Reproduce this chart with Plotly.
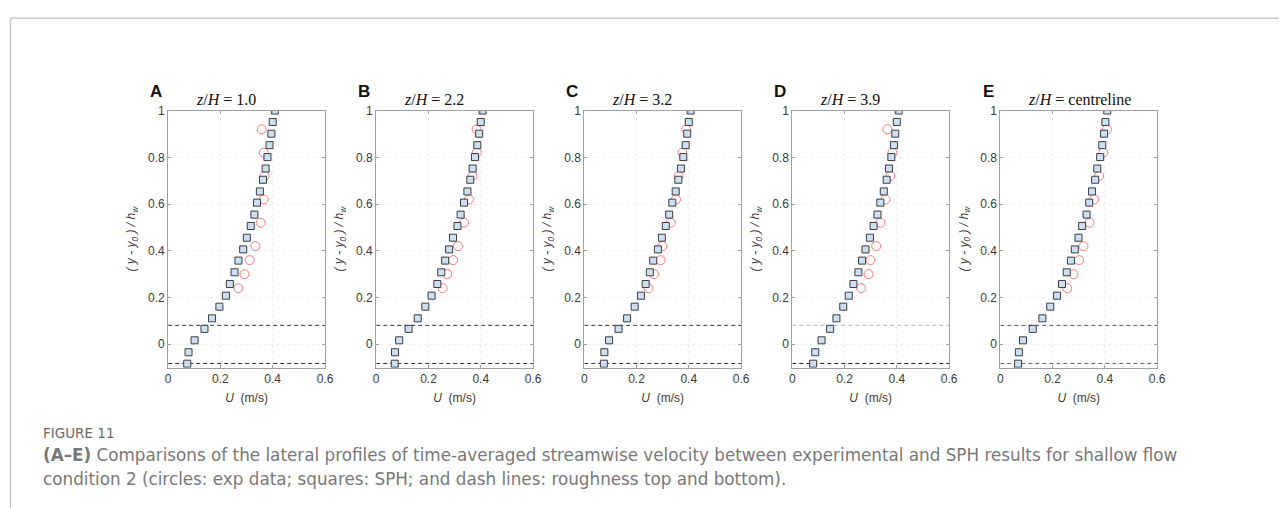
import plotly.graph_objects as go

# ---------------- data ----------------
panel_letters = ["A", "B", "C", "D", "E"]
panel_titles = ["1.0", "2.2", "3.2", "3.9", "centreline"]

sph_y = [1.0, 0.951, 0.901, 0.852, 0.801, 0.752, 0.704, 0.654, 0.606, 0.555, 0.506,
         0.456, 0.406, 0.358, 0.308, 0.258, 0.208, 0.161, 0.111, 0.066, 0.017, -0.034, -0.083]

sph_u_A = [0.408, 0.400, 0.395, 0.388, 0.380, 0.373, 0.363, 0.351, 0.340, 0.330, 0.316,
           0.301, 0.287, 0.269, 0.254, 0.236, 0.221, 0.196, 0.168, 0.139, 0.101, 0.078, 0.073]
sph_u_B = [0.407, 0.400, 0.394, 0.387, 0.378, 0.369, 0.360, 0.349, 0.336, 0.323, 0.311,
           0.294, 0.279, 0.264, 0.249, 0.234, 0.212, 0.188, 0.159, 0.124, 0.088, 0.072, 0.071]
sph_u_C = [0.407, 0.400, 0.394, 0.388, 0.379, 0.370, 0.360, 0.350, 0.337, 0.325, 0.312,
           0.297, 0.282, 0.264, 0.251, 0.235, 0.217, 0.193, 0.164, 0.131, 0.095, 0.077, 0.075]
sph_u_D = [0.407, 0.400, 0.394, 0.389, 0.379, 0.370, 0.361, 0.350, 0.337, 0.326, 0.311,
           0.297, 0.280, 0.267, 0.253, 0.234, 0.216, 0.195, 0.169, 0.145, 0.112, 0.088, 0.080]
sph_u_E = [0.409, 0.402, 0.397, 0.390, 0.382, 0.371, 0.363, 0.351, 0.340, 0.330, 0.313,
           0.299, 0.285, 0.270, 0.254, 0.236, 0.217, 0.191, 0.161, 0.124, 0.087, 0.071, 0.068]

exp_y = [0.92, 0.82, 0.72, 0.62, 0.52, 0.42, 0.36, 0.30, 0.24]
exp_u_A = [0.358, 0.366, 0.369, 0.366, 0.354, 0.334, 0.312, 0.292, 0.269]
exp_u_B = [0.384, 0.385, 0.368, 0.355, 0.336, 0.313, 0.294, 0.272, 0.254]
exp_u_C = [0.390, 0.375, 0.361, 0.351, 0.331, 0.299, 0.292, 0.267, 0.246]
exp_u_D = [0.364, 0.383, 0.375, 0.357, 0.337, 0.321, 0.299, 0.292, 0.263]
exp_u_E = [0.408, 0.394, 0.378, 0.359, 0.341, 0.318, 0.301, 0.280, 0.256]

roughness_top = 0.081
roughness_bottom = -0.082

x_ticks = [0, 0.2, 0.4, 0.6]
y_ticks = [0, 0.2, 0.4, 0.6, 0.8, 1.0]

sph_all = [sph_u_A, sph_u_B, sph_u_C, sph_u_D, sph_u_E]
exp_all = [exp_u_A, exp_u_B, exp_u_C, exp_u_D, exp_u_E]

# ---------------- layout geometry ----------------
W, H = 1288, 508
ax_left0, ax_w, ax_step = 166.7, 158.3, 210.0
ax_top, ax_bot = 105.0, 365.7

def px(x):
    return x / W

def py(y):
    return 1 - y / H

fig = go.Figure()
layout = dict(
    width=W, height=H, margin=dict(l=0, r=0, t=0, b=0),
    paper_bgcolor="white", plot_bgcolor="white", showlegend=False,
)
annotations = []
shapes = []

top_dash_colors = ["#333333", "#333333", "#333333", "#b4b4b4", "#555555"]
bot_dash_colors = ["#333333", "#333333", "#333333", "#222222", "#666666"]

tick_font = dict(family="Liberation Sans, Arial", size=12, color="#3a3a3a")

for i in range(5):
    n = "" if i == 0 else str(i + 1)
    xa, ya = "x" + n, "y" + n
    left = ax_left0 + ax_step * i
    right = left + ax_w

    # roughness lines
    fig.add_trace(go.Scatter(x=[0, 0.6], y=[roughness_top, roughness_top], mode="lines",
                             line=dict(color=top_dash_colors[i], width=1, dash="4px,3px"),
                             xaxis=xa, yaxis=ya, hoverinfo="skip"))
    fig.add_trace(go.Scatter(x=[0, 0.6], y=[roughness_bottom, roughness_bottom], mode="lines",
                             line=dict(color=bot_dash_colors[i], width=1, dash="4px,3px"),
                             xaxis=xa, yaxis=ya, hoverinfo="skip"))
    # exp circles
    fig.add_trace(go.Scatter(x=exp_all[i], y=exp_y, mode="markers",
                             marker=dict(symbol="circle-open", size=9,
                                         color="#ff7878", line=dict(width=1)),
                             xaxis=xa, yaxis=ya))
    # SPH squares
    fig.add_trace(go.Scatter(x=sph_all[i], y=sph_y, mode="markers",
                             marker=dict(symbol="square", size=7, color="#cddff2",
                                         line=dict(color="#3c3c3c", width=1)),
                             xaxis=xa, yaxis=ya))

    axis_common = dict(
        showline=True, linecolor="#a0a0a0", linewidth=1, mirror="ticks",
        ticks="inside", ticklen=3, tickcolor="#a0a0a0",
        showgrid=True, gridcolor="#efefef", griddash="dot", gridwidth=1,
        zeroline=False, tickfont=tick_font,
    )
    layout["xaxis" + n] = dict(
        axis_common, domain=[px(left), px(right)], anchor=ya, range=[0, 0.6],
        tickmode="array", tickvals=x_ticks, ticktext=[f"{v:g}" for v in x_ticks],
        title=dict(text="<i>U</i>  (m/s)", standoff=8,
                   font=dict(family="Liberation Sans, Arial", size=12, color="#3a3a3a")),
    )
    layout["yaxis" + n] = dict(
        axis_common, domain=[py(ax_bot), py(ax_top)], anchor=xa, range=[-0.1, 1.0],
        tickmode="array", tickvals=y_ticks, ticktext=[f"{v:g}" for v in y_ticks],
        title=dict(text="<i>( y - y<sub>0</sub> ) / h<sub>w</sub></i>", standoff=9,
                   font=dict(family="Liberation Sans, Arial", size=12, color="#3a3a3a")),
    )

    annotations.append(dict(text="<b>" + panel_letters[i] + "</b>", xref="paper", yref="paper",
                            x=px(left - 20), y=py(86), xanchor="left", yanchor="middle",
                            showarrow=False,
                            font=dict(family="Liberation Sans, Arial", size=17, color="#111111")))
    annotations.append(dict(text="<i>z</i>/<i>H</i> = " + panel_titles[i], xref="paper", yref="paper",
                            x=px(left + 26), y=py(94), xanchor="left", yanchor="middle",
                            showarrow=False,
                            font=dict(family="Liberation Serif, Times New Roman", size=16,
                                      color="#111111")))

# caption
cap_color = "#787878"
annotations.append(dict(text="FIGURE 11", xref="paper", yref="paper", x=px(38), y=py(431.5),
                        xanchor="left", yanchor="middle", showarrow=False,
                        font=dict(family="DejaVu Sans", size=13.5, color="#6a6a6a")))
annotations.append(dict(
    text="<b>(A–E)</b> Comparisons of the lateral profiles of time-averaged streamwise velocity "
         "between experimental and SPH results for shallow flow",
    xref="paper", yref="paper", x=px(38), y=py(454), xanchor="left", yanchor="middle",
    showarrow=False, font=dict(family="DejaVu Sans", size=16.8, color=cap_color)))
annotations.append(dict(
    text="condition 2 (circles: exp data; squares: SPH; and dash lines: roughness top and bottom).",
    xref="paper", yref="paper", x=px(38), y=py(479), xanchor="left", yanchor="middle",
    showarrow=False, font=dict(family="DejaVu Sans", size=16.8, color=cap_color)))

# page frame
shapes.append(dict(type="line", xref="paper", yref="paper", x0=px(7.5), x1=1.0,
                   y0=py(11.5), y1=py(11.5), line=dict(color="#c8c8c8", width=1.5)))
shapes.append(dict(type="line", xref="paper", yref="paper", x0=px(7.5), x1=px(7.5),
                   y0=py(11.5), y1=0, line=dict(color="#c8c8c8", width=1.5)))

layout["annotations"] = annotations
layout["shapes"] = shapes
fig.update_layout(**layout)
fig.write_html("out.html")
